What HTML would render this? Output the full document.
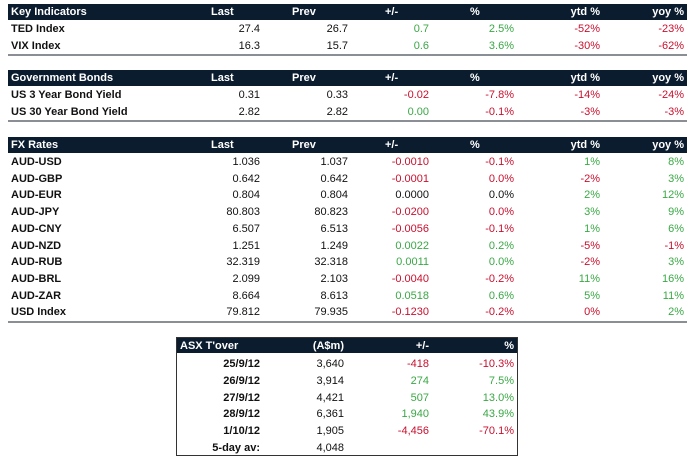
<!DOCTYPE html>
<html><head><meta charset="utf-8">
<style>
body{margin:0;width:699px;height:466px;background:#fff;position:relative;overflow:hidden;font-family:"Liberation Sans",sans-serif;font-size:11px;color:#111}
.t{position:absolute;white-space:nowrap;line-height:14px}
.hd{position:absolute;background:#0b1c2f}
.hl{position:absolute;height:2px;background:#8a8f96}
.w{color:#fff;font-weight:bold}
.b{font-weight:bold}
.g{color:#3aa845}.r{color:#c8102e}
</style></head><body>
<div id="root"></div>
<script>
const kiCats=["TED Index","VIX Index"];
const kiRows=[["27.4","26.7","0.7","2.5%","-52%","-23%"],["16.3","15.7","0.6","3.6%","-30%","-62%"]];
const bdCats=["US 3 Year Bond Yield","US 30 Year Bond Yield"];
const bdRows=[["0.31","0.33","-0.02","-7.8%","-14%","-24%"],["2.82","2.82","0.00","-0.1%","-3%","-3%"]];
const fxCats=["AUD-USD","AUD-GBP","AUD-EUR","AUD-JPY","AUD-CNY","AUD-NZD","AUD-RUB","AUD-BRL","AUD-ZAR","USD Index"];
const fxRows=[
["1.036","1.037","-0.0010","-0.1%","1%","8%"],
["0.642","0.642","-0.0001","0.0%","-2%","3%"],
["0.804","0.804","0.0000","0.0%","2%","12%"],
["80.803","80.823","-0.0200","0.0%","3%","9%"],
["6.507","6.513","-0.0056","-0.1%","1%","6%"],
["1.251","1.249","0.0022","0.2%","-5%","-1%"],
["32.319","32.318","0.0011","0.0%","-2%","3%"],
["2.099","2.103","-0.0040","-0.2%","11%","16%"],
["8.664","8.613","0.0518","0.6%","5%","11%"],
["79.812","79.935","-0.1230","-0.2%","0%","2%"]];
const fxColors=[
["","","r","r","g","g"],["","","r","r","r","g"],["","","","","g","g"],["","","r","r","g","g"],
["","","r","r","g","g"],["","","g","g","r","r"],["","","g","g","r","g"],["","","r","r","g","g"],
["","","g","g","g","g"],["","","r","r","r","g"]];
const kiColors=[["","","g","g","r","r"],["","","g","g","r","r"]];
const bdColors=[["","","r","r","r","r"],["","","g","r","r","r"]];
const asxDates=["25/9/12","26/9/12","27/9/12","28/9/12","1/10/12","5-day av:"];
const asxVal=["3,640","3,914","4,421","6,361","1,905","4,048"];
const asxChg=["-418","274","507","1,940","-4,456",""];
const asxPct=["-10.3%","7.5%","13.0%","43.9%","-70.1%",""];

const root=document.getElementById('root');
const colR=[260,348,429,514,600,684];
const pitch=16.7;
function txt(s,x,y,cls,align){
  const d=document.createElement('div');
  d.className='t '+(cls||'');
  d.textContent=s;
  if(align==='r'){d.style.right=(699-x)+'px';}else{d.style.left=x+'px';}
  d.style.top=(y-7)+'px';
  root.appendChild(d);
  return d;
}
function section(name,title,cats,rows,colors,top){
  const h=document.createElement('div');h.className='hd';
  
  
  h.style.left='8px';h.style.width='679px';h.style.top=top+'px';h.style.height='16px';
  root.appendChild(h);
  const cy=top+8;
  txt(title,11,cy,'w');
  txt('Last',211,cy,'w');txt('Prev',292,cy,'w');txt('+/-',385,cy,'w');txt('%',470,cy,'w');
  txt('ytd %',600,cy,'w','r');txt('yoy %',684,cy,'w','r');
  cats.forEach((c,i)=>{
    const y=top+25+i*pitch;
    const l=txt(c,11,y,'b');
    
    
    rows[i].forEach((v,j)=>{
      const e=txt(v,colR[j],y,colors[i][j],'r');
      
      
    });
  });
  const ln=document.createElement('div');ln.className='hl';
  
  
  ln.style.left='8px';ln.style.width='679px';ln.style.top=(top+17+cats.length*pitch)+'px';
  root.appendChild(ln);
}
section('key-indicators','Key Indicators',kiCats,kiRows,kiColors,4);
section('government-bonds','Government Bonds',bdCats,bdRows,bdColors,70);
section('fx-rates','FX Rates',fxCats,fxRows,fxColors,137);

// ASX box
const box=document.createElement('div');


box.style.cssText='position:absolute;left:176px;top:337px;width:340px;height:117px;border:1px solid #333;';
root.appendChild(box);
const ah=document.createElement('div');ah.className='hd';


ah.style.cssText='left:177px;top:338px;width:340px;height:15px;';
root.appendChild(ah);
txt("ASX T'over",180,346,'w');txt('(A$m)',344,346,'w','r');txt('+/-',429,346,'w','r');txt('%',514,346,'w','r');
asxDates.forEach((d,i)=>{
  const y=364+i*16.8;
  const a=txt(d,260,y,'b','r');
  
  
  const v=txt(asxVal[i],344,y,'','r');
  
  
  const neg=asxChg[i].startsWith('-');
  const c=txt(asxChg[i],429,y,neg?'r':'g','r');
  
  
  const p=txt(asxPct[i],514,y,neg?'r':'g','r');
  
  
});
</script>
</body></html>
